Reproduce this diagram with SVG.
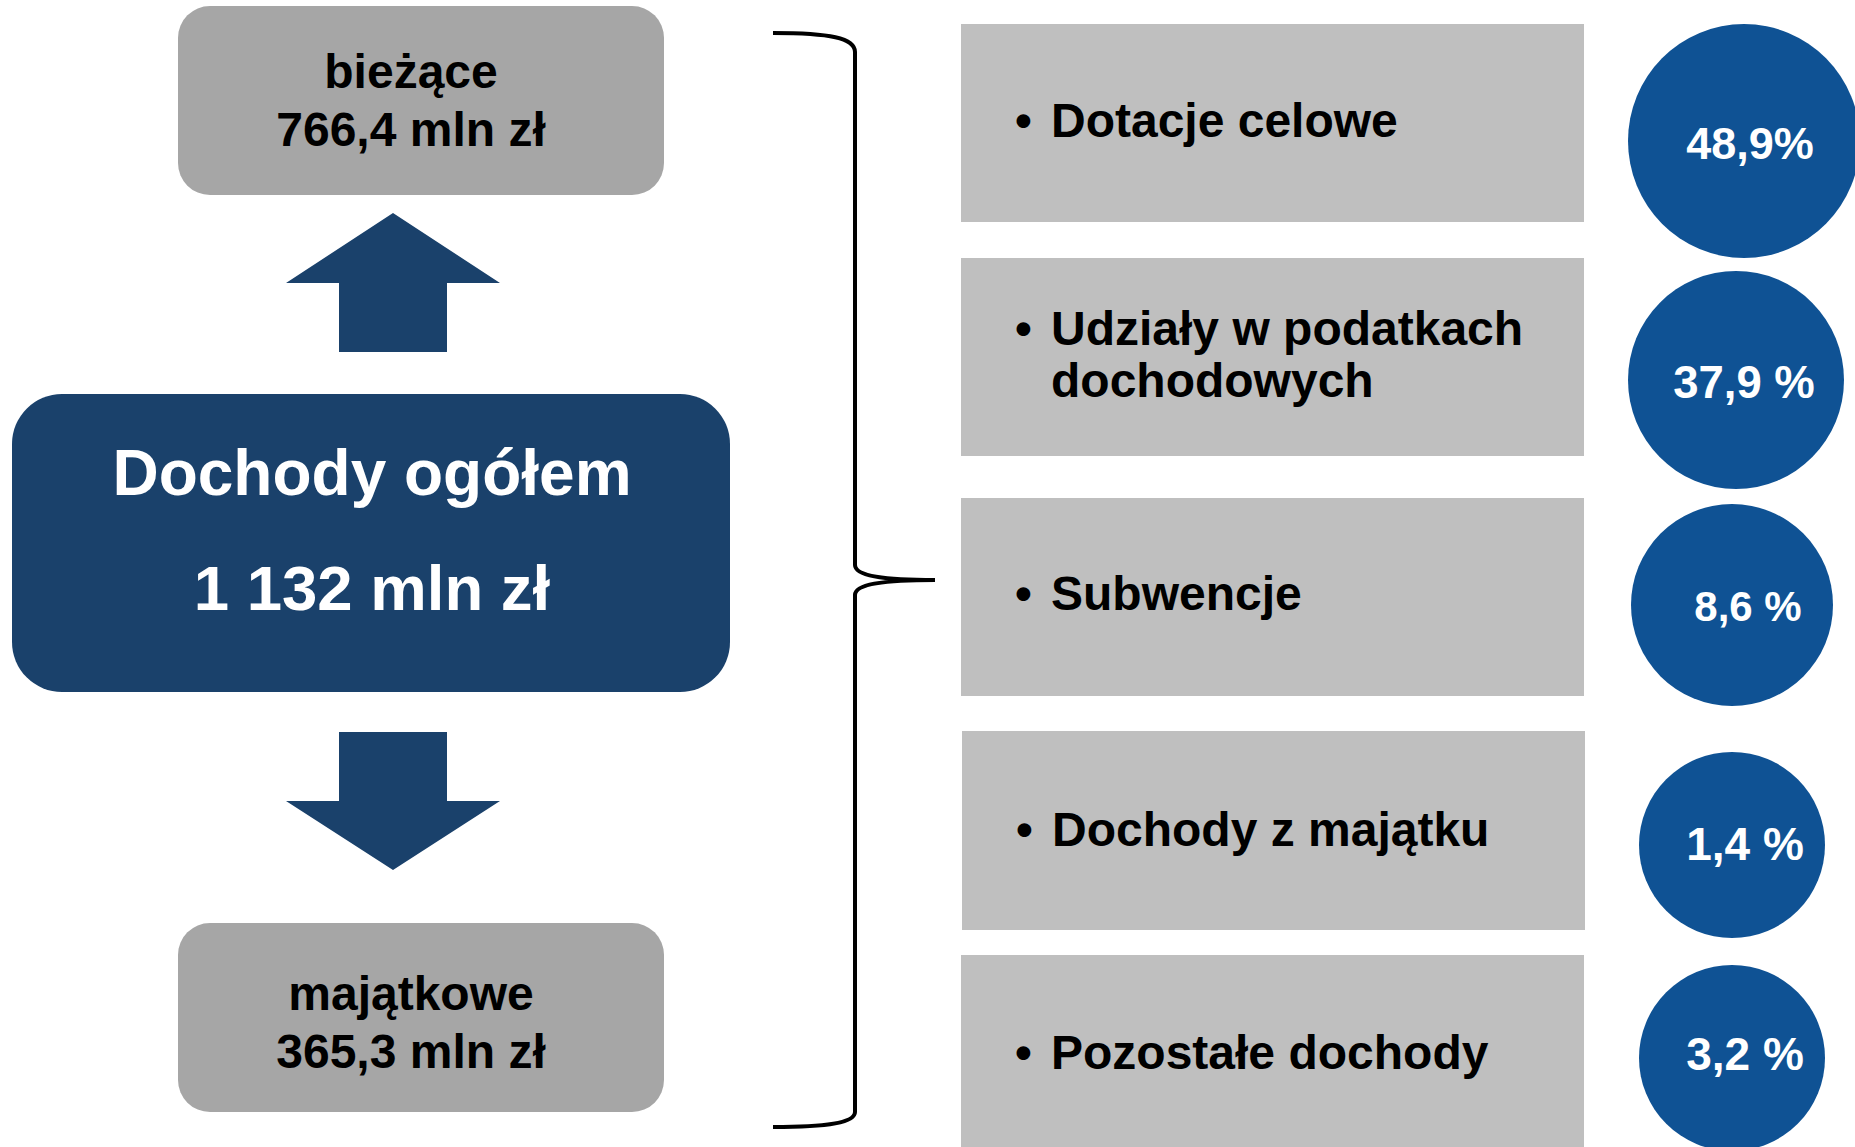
<svg xmlns="http://www.w3.org/2000/svg" width="1855" height="1147" viewBox="0 0 1855 1147">
<style>
.t{font-family:"Liberation Sans",Arial,sans-serif;font-weight:bold}
.gray{fill:#A6A6A6}
.lt{fill:#BFBFBF}
.dark{fill:#1A416B}
.circ{fill:#0F5294}
.blk{fill:#000}
.wht{fill:#fff}
.br{fill:none;stroke:#000;stroke-width:4}
</style>
<rect width="1855" height="1147" fill="#fff"/>
<g id="connectors">
<polygon class="dark" points="393,213 500,283 447,283 447,352 339,352 339,283 286,283"/>
<polygon class="dark" points="339,732 447,732 447,801 500,801 393,870 286,801 339,801"/>
<path class="br" d="M773,33 C830,33 855,38 855,52 L855,565 C855,575 880,580 935,580 C880,580 855,585 855,595 L855,1112 C855,1122 830,1127 773,1127"/>
</g>
<g id="biezace">
<rect class="gray" x="178" y="6" width="486" height="189" rx="32" ry="32"/>
<text class="t blk" x="411" y="88" font-size="48" text-anchor="middle">bieżące</text>
<text class="t blk" x="411" y="146" font-size="48" text-anchor="middle">766,4 mln zł</text>
</g>
<g id="ogolem">
<rect class="dark" x="12" y="394" width="718" height="298" rx="50" ry="50"/>
<text class="t wht" x="372" y="495" font-size="64" text-anchor="middle">Dochody ogółem</text>
<text class="t wht" x="372" y="610" font-size="63.5" text-anchor="middle">1 132 mln zł</text>
</g>
<g id="majatkowe">
<rect class="gray" x="178" y="923" width="486" height="189" rx="32" ry="32"/>
<text class="t blk" x="411" y="1010" font-size="48" text-anchor="middle">majątkowe</text>
<text class="t blk" x="411" y="1068" font-size="48" text-anchor="middle">365,3 mln zł</text>
</g>
<g id="dotacje">
<rect class="lt" x="961" y="24" width="623" height="198"/>
<text class="t blk" font-size="48" y="137"><tspan x="1015">•</tspan><tspan x="1051">Dotacje celowe</tspan></text>
</g>
<g id="udzialy">
<rect class="lt" x="961" y="258" width="623" height="198"/>
<text class="t blk" font-size="48" y="345"><tspan x="1015">•</tspan><tspan x="1051">Udziały w podatkach</tspan></text>
<text class="t blk" font-size="48" x="1051" y="397">dochodowych</text>
</g>
<g id="subwencje">
<rect class="lt" x="961" y="498" width="623" height="198"/>
<text class="t blk" font-size="48" y="610"><tspan x="1015">•</tspan><tspan x="1051">Subwencje</tspan></text>
</g>
<g id="majatek">
<rect class="lt" x="962" y="731" width="623" height="199"/>
<text class="t blk" font-size="48" y="846"><tspan x="1016">•</tspan><tspan x="1052">Dochody z majątku</tspan></text>
</g>
<g id="pozostale">
<rect class="lt" x="961" y="955" width="623" height="192"/>
<text class="t blk" font-size="48" y="1069"><tspan x="1015">•</tspan><tspan x="1051">Pozostałe dochody</tspan></text>
</g>
<g id="p1">
<ellipse class="circ" cx="1744" cy="141" rx="116" ry="117"/>
<text class="t wht" x="1750" y="159" font-size="45" text-anchor="middle">48,9%</text>
</g>
<g id="p2">
<ellipse class="circ" cx="1736" cy="380" rx="108" ry="109"/>
<text class="t wht" x="1744" y="398" font-size="45.5" text-anchor="middle">37,9 %</text>
</g>
<g id="p3">
<ellipse class="circ" cx="1732" cy="605" rx="101" ry="101"/>
<text class="t wht" x="1748" y="621" font-size="42" text-anchor="middle">8,6 %</text>
</g>
<g id="p4">
<ellipse class="circ" cx="1732" cy="845" rx="93" ry="93"/>
<text class="t wht" x="1745" y="860" font-size="46" text-anchor="middle">1,4 %</text>
</g>
<g id="p5">
<ellipse class="circ" cx="1732" cy="1058" rx="93" ry="93"/>
<text class="t wht" x="1745" y="1070" font-size="46" text-anchor="middle">3,2 %</text>
</g>
</svg>
